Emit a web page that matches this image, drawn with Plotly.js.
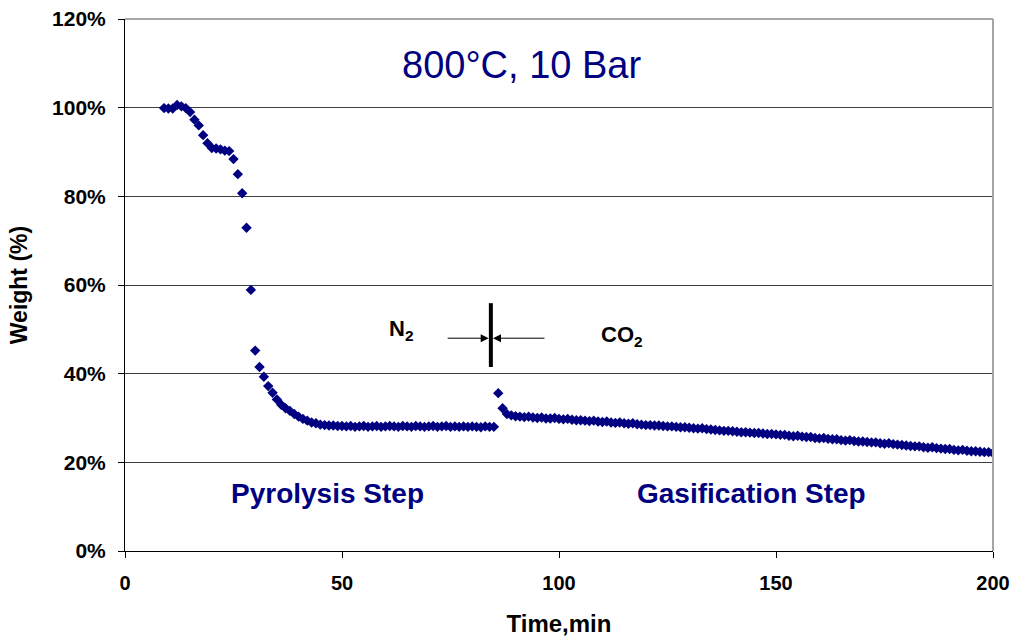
<!DOCTYPE html>
<html>
<head>
<meta charset="utf-8">
<script src="https://cdn.plot.ly/plotly-3.0.1.min.js"></script>
<style>html,body{margin:0;padding:0;background:#fff;}#chart{width:1018px;height:640px;}</style>
</head>
<body>
<div id="chart"></div>
<script>
// Time (min)
var timeMin = [
  9,10,11,12,13,14,15,16,17,18,19,20,21,22,23,24,25,26,27,28,29,30,
  31,32,33,34,35,36,37,38,39,40,41,42,43,44,45,46,47,48,49,50,
  51,52,53,54,55,56,57,58,59,60,61,62,63,64,65,66,67,68,69,70,
  71,72,73,74,75,76,77,78,79,80,81,82,83,84,85,
  86,87,88,89,90,91,92,93,94,95,96,97,98,99,100,
  101,102,103,104,105,106,107,108,109,110,111,112,113,114,115,116,117,118,119,120,
  121,122,123,124,125,126,127,128,129,130,131,132,133,134,135,136,137,138,139,140,
  141,142,143,144,145,146,147,148,149,150,151,152,153,154,155,156,157,158,159,160,
  161,162,163,164,165,166,167,168,169,170,171,172,173,174,175,176,177,178,179,180,
  181,182,183,184,185,186,187,188,189,190,191,192,193,194,195,196,197,198,199,200
];
// Weight (%)
var weightPct = [
  99.9,99.8,99.8,100.6,100.3,99.9,99.0,97.3,96.0,93.8,92.0,90.9,90.8,90.6,90.3,90.2,88.4,85.0,80.7,72.9,58.9,45.2,
  41.5,39.3,37.2,35.7,34.2,33.0,32.2,31.6,30.9,30.3,29.8,29.4,29.0,28.8,28.5,28.4,28.3,28.3,28.2,28.2,
  28.1,28.2,28.0,28.1,28.2,28.0,28.1,28.2,28.0,28.1,28.2,28.1,28.0,28.2,28.1,28.0,28.2,28.1,28.0,28.1,
  28.2,28.0,28.1,28.2,28.0,28.1,28.0,28.1,28.0,28.1,28.0,27.9,28.1,28.0,28.0,
  35.6,32.2,30.9,30.6,30.4,30.3,30.2,30.3,30.1,30.0,30.1,29.9,29.9,30.0,29.8,
  29.7,29.8,29.6,29.5,29.5,29.4,29.3,29.4,29.2,29.1,29.2,29.0,28.9,29.0,28.8,28.7,28.8,28.6,28.5,28.4,
  28.4,28.3,28.3,28.2,28.1,28.1,28.0,27.9,27.9,27.8,27.7,27.6,27.7,27.5,27.4,27.3,27.2,27.1,27.1,27.0,
  26.9,26.8,26.8,26.7,26.6,26.6,26.5,26.4,26.4,26.3,26.2,26.2,26.0,25.9,26.0,25.8,25.7,25.7,25.5,25.4,
  25.5,25.3,25.2,25.2,25.0,24.9,25.0,24.8,24.7,24.7,24.6,24.5,24.5,24.3,24.2,24.3,24.1,24.0,23.9,23.8,
  23.7,23.6,23.6,23.4,23.3,23.4,23.2,23.1,23.0,23.0,22.8,22.7,22.8,22.6,22.5,22.5,22.4,22.3,22.3,22.1
];
var yTickVals = [0,20,40,60,80,100,120];
var yTickText = ['0%','20%','40%','60%','80%','100%','120%'];
var xTickVals = [0,50,100,150,200];
var xTickText = ['0','50','100','150','200'];

var FONT = 'Liberation Sans, Arial, sans-serif';
var NAVY = '#000080';

var trace = {
  x: timeMin, y: weightPct, type: 'scatter', mode: 'markers',
  marker: {symbol: 'diamond', size: 8, color: NAVY},
  hoverinfo: 'x+y'
};

var layout = {
  width: 1018, height: 640,
  margin: {l: 125, r: 25, t: 19, b: 89},
  paper_bgcolor: '#fff', plot_bgcolor: '#fff',
  showlegend: false,
  font: {family: FONT, color: '#000'},
  xaxis: {
    range: [0, 200], tickvals: xTickVals, ticktext: xTickText,
    ticks: 'outside', ticklen: 6, tickcolor: '#000', tickwidth: 1,
    showline: true, linecolor: '#000', linewidth: 1,
    showgrid: false, zeroline: false,
    tickfont: {family: FONT, size: 20, color: '#000', weight: 'bold'},
    ticklabelstandoff: 8,
    title: {text: '<b>Time,min</b>', font: {family: FONT, size: 24, color: '#000'}, standoff: 22}
  },
  yaxis: {
    range: [0, 120], tickvals: yTickVals, ticktext: yTickText,
    ticks: 'outside', ticklen: 6, tickcolor: '#000', tickwidth: 1,
    showline: true, linecolor: '#000', linewidth: 1,
    showgrid: true, gridcolor: '#404040', gridwidth: 1, zeroline: false,
    tickfont: {family: FONT, size: 21, color: '#000', weight: 'bold'},
    ticklabelstandoff: 8,
    title: {text: '<b>Weight (%)</b>', font: {family: FONT, size: 23, color: '#000'}, standoff: 18}
  },
  shapes: [
    {type: 'line', xref: 'paper', yref: 'paper', x0: 0, x1: 1, y0: 1, y1: 1, line: {color: '#a6a6a6', width: 2}, layer: 'above'},
    {type: 'line', xref: 'paper', yref: 'paper', x0: 1, x1: 1, y0: 0, y1: 1, line: {color: '#a6a6a6', width: 2}, layer: 'above'},
    {type: 'line', xref: 'x', yref: 'y', x0: 84.3, x1: 84.3, y0: 41.5, y1: 55.9, line: {color: '#000', width: 4}}
  ],
  annotations: [
    {text: '800°C, 10 Bar', xref: 'paper', yref: 'paper', x: 0.457, y: 0.913, xanchor: 'center', yanchor: 'middle', showarrow: false,
     font: {family: FONT, size: 38, color: NAVY}},
    {text: '<b>Pyrolysis Step</b>', xref: 'x', yref: 'y', x: 46.6, y: 12.9, yanchor: 'middle', showarrow: false,
     font: {family: FONT, size: 28, color: NAVY}},
    {text: '<b>Gasification Step</b>', xref: 'x', yref: 'y', x: 144.3, y: 12.9, yanchor: 'middle', showarrow: false,
     font: {family: FONT, size: 28, color: NAVY}},
    {text: '<b>N<sub>2</sub></b>', xref: 'x', yref: 'y', x: 63.6, y: 49.8, showarrow: false,
     font: {family: FONT, size: 22, color: '#000'}},
    {text: '<b>CO<sub>2</sub></b>', xref: 'x', yref: 'y', x: 114.5, y: 48.6, showarrow: false,
     font: {family: FONT, size: 22, color: '#000'}},
    {text: '', xref: 'x', yref: 'y', x: 83.8, y: 48.0, axref: 'x', ayref: 'y', ax: 74.0, ay: 48.0,
     showarrow: true, arrowhead: 2, arrowsize: 1.6, arrowwidth: 1, arrowcolor: '#000'},
    {text: '', xref: 'x', yref: 'y', x: 84.8, y: 48.0, axref: 'x', ayref: 'y', ax: 97.0, ay: 48.0,
     showarrow: true, arrowhead: 2, arrowsize: 1.6, arrowwidth: 1, arrowcolor: '#000'}
  ]
};

Plotly.newPlot('chart', [trace], layout, {displayModeBar: false, staticPlot: true});
</script>
</body>
</html>
